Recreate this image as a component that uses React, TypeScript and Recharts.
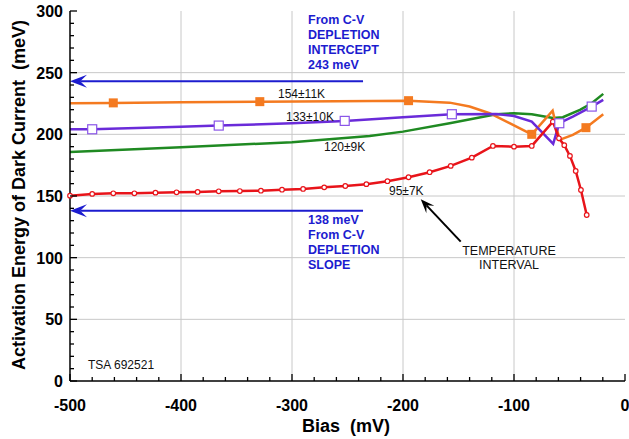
import React from 'react';
import { ComposedChart, Line, Scatter, XAxis, YAxis, CartesianGrid, ReferenceLine } from 'recharts';

const FONT = '"Liberation Sans", Arial, Helvetica, sans-serif';

// activation energy (meV) vs bias (mV), one array per temperature interval
const red95 = [
  { x: -500, y: 150.3 }, { x: -480, y: 151.7 }, { x: -461, y: 152.2 }, { x: -442, y: 152.2 },
  { x: -423, y: 152.7 }, { x: -404, y: 153.0 }, { x: -385, y: 153.3 }, { x: -366, y: 153.8 },
  { x: -347, y: 154.0 }, { x: -328, y: 154.3 }, { x: -309, y: 155.1 }, { x: -290, y: 155.7 },
  { x: -271, y: 157.0 }, { x: -252, y: 158.1 }, { x: -233, y: 159.6 }, { x: -214, y: 162.0 },
  { x: -195, y: 165.2 }, { x: -176, y: 169.3 }, { x: -157, y: 174.4 }, { x: -138, y: 181.1 },
  { x: -119, y: 190.6 }, { x: -100, y: 190.0 }, { x: -84, y: 190.6 }, { x: -65, y: 210.3 },
  { x: -59.5, y: 196.8 }, { x: -54.7, y: 191.2 }, { x: -49.6, y: 182.5 }, { x: -44.4, y: 170.3 },
  { x: -39.7, y: 154.9 }, { x: -34.5, y: 134.6 },
];

const green120 = [
  { x: -500, y: 185.7 }, { x: -400, y: 189.5 }, { x: -300, y: 193.6 }, { x: -230, y: 198.7 },
  { x: -200, y: 202.2 }, { x: -158, y: 209 }, { x: -116, y: 216.3 }, { x: -100, y: 217.1 },
  { x: -84, y: 216.3 }, { x: -65, y: 213.3 }, { x: -56, y: 213.9 }, { x: -40.6, y: 219.8 },
  { x: -30, y: 225.2 }, { x: -19.6, y: 232.8 },
];

const purple133 = [
  { x: -500, y: 204.1 }, { x: -480, y: 204.1 }, { x: -400, y: 206.2 }, { x: -366, y: 207.1 },
  { x: -300, y: 209 }, { x: -252.5, y: 210.9 }, { x: -200, y: 213.9 }, { x: -156, y: 216.3 },
  { x: -116, y: 216.5 }, { x: -100, y: 214.9 }, { x: -84, y: 210.3 }, { x: -64.7, y: 192.2 },
  { x: -59.2, y: 209 }, { x: -47, y: 214.4 }, { x: -30, y: 222.5 }, { x: -19.6, y: 227.9 },
];
const purpleMarks = [
  { x: -480, y: 204.1 }, { x: -366, y: 207.1 }, { x: -252.5, y: 210.9 },
  { x: -156, y: 216.3 }, { x: -59.2, y: 209 }, { x: -30, y: 222.5 },
];

const orange154 = [
  { x: -500, y: 225.2 }, { x: -461, y: 225.5 }, { x: -400, y: 226.0 }, { x: -329, y: 226.5 },
  { x: -260, y: 226.9 }, { x: -195, y: 227.3 }, { x: -158, y: 225.7 }, { x: -140, y: 222.5 },
  { x: -122, y: 217.1 }, { x: -104, y: 209 }, { x: -84, y: 200 }, { x: -65.2, y: 219.2 },
  { x: -59, y: 195.5 }, { x: -47, y: 199.5 }, { x: -35.2, y: 205.4 }, { x: -19.6, y: 216.3 },
];
const orangeMarks = [
  { x: -461, y: 225.5 }, { x: -329, y: 226.5 }, { x: -195, y: 227.3 }, { x: -84, y: 200 }, { x: -35.2, y: 205.4 },
];

// C-V depletion reference levels (meV), arrows run from the left axis
const cvLevels = [243, 138];
const cvArrowEnd = -236;

// pointer from "TEMPERATURE INTERVAL" to the 95K curve
const pointerFrom = { x: -148, y: 113 };
const pointerTo = { x: -184, y: 147.4 };

const xTicks = [-500, -480, -460, -440, -420, -400, -380, -360, -340, -320, -300, -280, -260, -240, -220,
  -200, -180, -160, -140, -120, -100, -80, -60, -40, -20, 0];
const yTicks = [0, 10, 20, 30, 40, 50, 60, 70, 80, 90, 100, 110, 120, 130, 140, 150, 160, 170, 180, 190,
  200, 210, 220, 230, 240, 250, 260, 270, 280, 290, 300];
const xGrid = [-400, -300, -200, -100];
const yGrid = [50, 100, 150, 200, 250];

const XTick = (props: any) => {
  const { x, y, payload, side } = props;
  const v = payload.value;
  const major = v % 100 === 0;
  const len = major ? 7 : 4;
  const dir = side === 'top' ? 1 : -1;
  return (
    <g>
      <line x1={x} x2={x} y1={y} y2={y + dir * len} stroke="#000" strokeWidth={1.3} />
      {side === 'bottom' && major && (
        <text x={x} y={y + 30} textAnchor="middle" fontFamily={FONT} fontWeight="bold" fontSize={16} fill="#000">
          {v}
        </text>
      )}
    </g>
  );
};

const YTick = (props: any) => {
  const { x, y, payload, side } = props;
  const v = payload.value;
  const major = v % 50 === 0;
  const len = major ? 7 : 4;
  const dir = side === 'right' ? -1 : 1;
  return (
    <g>
      <line x1={x} x2={x + dir * len} y1={y} y2={y} stroke="#000" strokeWidth={1.3} />
      {side === 'left' && major && (
        <text x={x - 7} y={y + 6} textAnchor="end" fontFamily={FONT} fontWeight="bold" fontSize={16} fill="#000">
          {v}
        </text>
      )}
    </g>
  );
};

const arrowShape = (color: string, L: number, W: number, sw: number) => (p: any) => {
  const { x1, y1, x2, y2 } = p;
  const dx = x1 - x2;
  const dy = y1 - y2;
  const d = Math.hypot(dx, dy) || 1;
  const ux = dx / d;
  const uy = dy / d;
  const nx = -uy;
  const ny = ux;
  const bx = x1 - ux * L;
  const by = y1 - uy * L;
  const mx = x1 - ux * L * 0.6;
  const my = y1 - uy * L * 0.6;
  const pts = `${x1},${y1} ${bx + nx * W},${by + ny * W} ${mx},${my} ${bx - nx * W},${by - ny * W}`;
  return (
    <g>
      <line x1={x2} y1={y2} x2={mx} y2={my} stroke={color} strokeWidth={sw} />
      <polygon points={pts} fill={color} />
    </g>
  );
};

const RedDot = (p: any) => {
  if (p.cx == null || p.cy == null) return <g />;
  return <circle cx={p.cx} cy={p.cy} r={2.3} fill="#fff" stroke="#e8141a" strokeWidth={1.2} />;
};

const OrangeSquare = (p: any) => <rect x={p.cx - 4.5} y={p.cy - 4.5} width={9} height={9} fill="#f47a20" />;
const PurpleSquare = (p: any) => (
  <rect x={p.cx - 4.5} y={p.cy - 4.5} width={9} height={9} fill="#fff" stroke="#8a55e8" strokeWidth={1.2} />
);

const txt = (extra: React.CSSProperties): React.CSSProperties => ({
  position: 'absolute',
  fontFamily: FONT,
  whiteSpace: 'pre',
  ...extra,
});

export default function App() {
  return (
    <div style={{ position: 'absolute', left: 0, top: 0, width: 629, height: 439, background: '#fff' }}>
      <ComposedChart width={629} height={439} margin={{ top: 11, right: 4, left: 0, bottom: 0 }}>
        <CartesianGrid stroke="#c8c8c8" strokeWidth={1} verticalValues={xGrid} horizontalValues={yGrid} />
        <XAxis
          type="number"
          dataKey="x"
          domain={[-500, 0]}
          ticks={xTicks}
          interval={0}
          height={58}
          tickSize={0}
          tickMargin={0}
          tickLine={false}
          axisLine={{ stroke: '#000', strokeWidth: 1.5 }}
          tick={(p: any) => <XTick {...p} side="bottom" />}
        />
        <XAxis
          xAxisId="top"
          orientation="top"
          type="number"
          domain={[-500, 0]}
          ticks={xTicks}
          interval={0}
          height={0}
          tickSize={0}
          tickMargin={0}
          tickLine={false}
          axisLine={{ stroke: '#000', strokeWidth: 1.5 }}
          tick={(p: any) => <XTick {...p} side="top" />}
        />
        <YAxis
          type="number"
          dataKey="y"
          domain={[0, 300]}
          ticks={yTicks}
          interval={0}
          width={70}
          tickSize={0}
          tickMargin={0}
          tickLine={false}
          axisLine={{ stroke: '#000', strokeWidth: 1.5 }}
          tick={(p: any) => <YTick {...p} side="left" />}
        />
        <YAxis
          yAxisId="right"
          orientation="right"
          type="number"
          domain={[0, 300]}
          ticks={yTicks}
          interval={0}
          width={0}
          tickSize={0}
          tickMargin={0}
          tickLine={false}
          axisLine={{ stroke: '#000', strokeWidth: 1.5 }}
          tick={(p: any) => <YTick {...p} side="right" />}
        />

        {cvLevels.map((v) => (
          <ReferenceLine
            key={v}
            segment={[{ x: -500, y: v }, { x: cvArrowEnd, y: v }]}
            ifOverflow="visible"
            shape={arrowShape('#1c1ccf', 17, 6.5, 2)}
          />
        ))}
        <ReferenceLine
          segment={[pointerTo, pointerFrom]}
          ifOverflow="visible"
          shape={arrowShape('#000', 14, 5.5, 2)}
        />

        <Line data={green120} dataKey="y" type="linear" stroke="#1f8a22" strokeWidth={2.5} dot={false} activeDot={false} isAnimationActive={false} />
        <Line data={orange154} dataKey="y" type="linear" stroke="#f47a20" strokeWidth={2.5} dot={false} activeDot={false} isAnimationActive={false} />
        <Line data={purple133} dataKey="y" type="linear" stroke="#6a2bd9" strokeWidth={2.5} dot={false} activeDot={false} isAnimationActive={false} />
        <Line data={red95} dataKey="y" type="linear" stroke="#e8141a" strokeWidth={2.5} dot={<RedDot />} activeDot={false} isAnimationActive={false} />
        <Scatter data={orangeMarks} dataKey="y" shape={<OrangeSquare />} isAnimationActive={false} />
        <Scatter data={purpleMarks} dataKey="y" shape={<PurpleSquare />} isAnimationActive={false} />
      </ComposedChart>

      <div style={txt({ left: 308, top: 12.5, color: '#1c1ccf', fontWeight: 'bold', fontSize: 12.5, lineHeight: '15px' })}>
        {'From C-V\nDEPLETION\nINTERCEPT\n243 meV'}
      </div>
      <div style={txt({ left: 308, top: 212.5, color: '#1c1ccf', fontWeight: 'bold', fontSize: 12.5, lineHeight: '15px' })}>
        {'138 meV\nFrom C-V\nDEPLETION\nSLOPE'}
      </div>

      <div style={txt({ left: 278, top: 86, fontSize: 12, lineHeight: '16px', color: '#111' })}>154±11K</div>
      <div style={txt({ left: 286, top: 109, fontSize: 12, lineHeight: '16px', color: '#111' })}>133±10K</div>
      <div style={txt({ left: 324, top: 139, fontSize: 12, lineHeight: '16px', color: '#111' })}>120±9K</div>
      <div style={txt({ left: 389, top: 182.5, fontSize: 12, lineHeight: '16px', color: '#111' })}>95±7K</div>
      <div style={txt({ left: 449, top: 243.5, width: 120, textAlign: 'center', fontSize: 12.5, lineHeight: '14.5px', color: '#111' })}>
        {'TEMPERATURE\nINTERVAL'}
      </div>
      <div style={txt({ left: 88, top: 357, fontSize: 12, lineHeight: '16px', color: '#111' })}>TSA 692521</div>

      <div style={txt({ left: 246, top: 414, width: 200, textAlign: 'center', fontSize: 18, fontWeight: 'bold', lineHeight: '24px' })}>
        {'Bias  (mV)'}
      </div>
      <div
        style={txt({
          left: 18.5 - 210,
          top: 195 - 12,
          width: 420,
          height: 24,
          textAlign: 'center',
          fontSize: 18,
          fontWeight: 'bold',
          lineHeight: '24px',
          transform: 'rotate(-90deg)',
        })}
      >
        {'Activation Energy of Dark Current  (meV)'}
      </div>
    </div>
  );
}
